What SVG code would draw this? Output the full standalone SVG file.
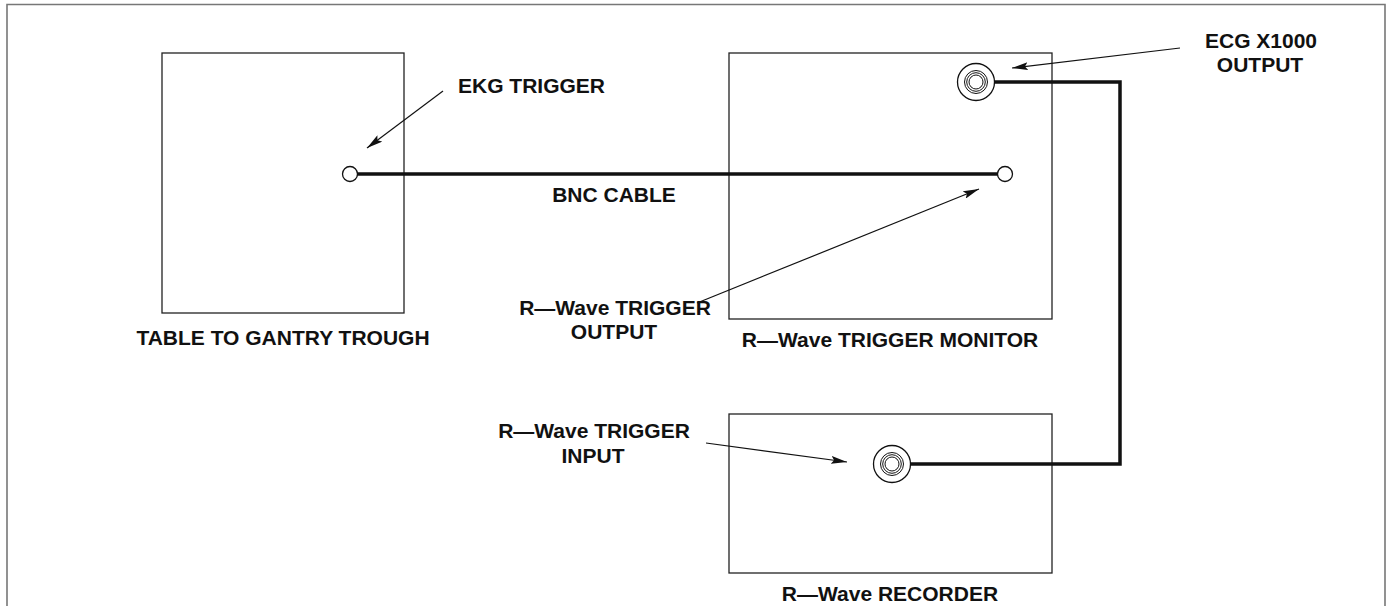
<svg xmlns="http://www.w3.org/2000/svg" width="1395" height="606" viewBox="0 0 1395 606">
<style>
.box{fill:#fff;stroke:#222;stroke-width:1.3}
.lbl{font-family:"Liberation Sans",Arial,sans-serif;font-weight:bold;font-size:21px;fill:#111}
.mid{text-anchor:middle}
.cable{fill:none;stroke:#111;stroke-width:3.5}
.lead{fill:none;stroke:#111;stroke-width:1.2}
.jack{fill:#fff;stroke:#111;stroke-width:1.3}
.ring{fill:none;stroke:#111;stroke-width:1}
</style>
<defs>
<marker id="ah" viewBox="0 0 16 8" refX="16" refY="4" markerWidth="16" markerHeight="8" markerUnits="userSpaceOnUse" orient="auto">
<path d="M0,0 L16,4 L0,8 L3,4 Z" fill="#111"/>
</marker>
</defs>
<rect width="1395" height="606" fill="#fff"/>
<path d="M7,606 V4.5 H1385 V606" fill="none" stroke="#777" stroke-width="1.6"/>

<g id="table-trough">
<rect class="box" x="162" y="53" width="242" height="260"/>
<text class="lbl mid" x="283" y="345">TABLE TO GANTRY TROUGH</text>
</g>

<g id="trigger-monitor">
<rect class="box" x="729" y="53" width="323" height="266"/>
<text class="lbl mid" x="890" y="347">R—Wave TRIGGER MONITOR</text>
</g>

<g id="recorder">
<rect class="box" x="729" y="414" width="323" height="159"/>
<text class="lbl mid" x="890" y="601">R—Wave RECORDER</text>
</g>

<g id="connectors">
<line class="cable" x1="357" y1="174" x2="998" y2="174" stroke-width="3"/>
<polyline class="cable" points="994,82 1120,82 1120,464 910,464"/>
<line class="lead" x1="443" y1="91" x2="367" y2="148" marker-end="url(#ah)"/>
<line class="lead" x1="697" y1="303" x2="979" y2="189" marker-end="url(#ah)"/>
<line class="lead" x1="1180" y1="48" x2="1012" y2="68" marker-end="url(#ah)"/>
<line class="lead" x1="706" y1="443" x2="847" y2="462" marker-end="url(#ah)"/>
</g>

<g id="ekg-trigger-jack">
<circle class="jack" cx="350" cy="174" r="7.5"/>
</g>
<g id="rwave-output-jack">
<circle class="jack" cx="1005" cy="174" r="7.5"/>
</g>
<g id="ecg-output-jack">
<circle class="jack" cx="976" cy="82" r="18.5"/>
<circle class="ring" cx="976" cy="82" r="11.5"/>
<circle class="ring" cx="976" cy="82" r="9.3"/>
<circle class="ring" cx="976" cy="82" r="7"/>
</g>
<g id="rwave-input-jack">
<circle class="jack" cx="892" cy="464" r="18.5"/>
<circle class="ring" cx="892" cy="464" r="11.5"/>
<circle class="ring" cx="892" cy="464" r="9.3"/>
<circle class="ring" cx="892" cy="464" r="7"/>
</g>

<g id="labels">
<text class="lbl" x="458" y="93">EKG TRIGGER</text>
<text class="lbl mid" x="614" y="202">BNC CABLE</text>
<text class="lbl mid" x="615" y="315">R—Wave TRIGGER</text>
<text class="lbl mid" x="614" y="339">OUTPUT</text>
<text class="lbl mid" x="594" y="438">R—Wave TRIGGER</text>
<text class="lbl mid" x="593" y="463">INPUT</text>
<text class="lbl mid" x="1261" y="48">ECG X1000</text>
<text class="lbl mid" x="1260" y="72">OUTPUT</text>
</g>
</svg>
